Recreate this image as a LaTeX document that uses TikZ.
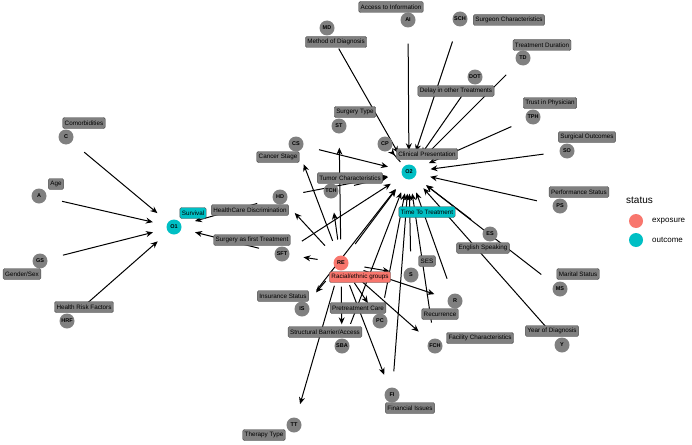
\documentclass[tikz,border=0pt]{standalone}
\usepackage{fontspec}
\setmainfont{Liberation Sans}
\usetikzlibrary{arrows.meta}
\pgfdeclarelayer{bg}
\pgfsetlayers{bg,main}
\begin{document}
\begin{tikzpicture}[x=1pt,y=-1pt,
  circ/.style={circle,fill=black!50,inner sep=0pt,minimum size=15pt,font=\fontsize{5.5}{6}\selectfont\bfseries},
  lab/.style={rectangle,rounded corners=1.5pt,fill=black!50,draw=black!70,line width=0.4pt,inner sep=2pt,minimum height=11pt,font=\fontsize{6.3}{7}\selectfont},
  edge/.style={-{Stealth[length=7pt,width=6pt]},line width=1pt,shorten >=14pt,shorten <=16pt}]
\useasboundingbox (0,0) rectangle (692,444);
\foreach \n/\x/\y/\a/\lx/\ly/\t in {
 MD/327/28/MD/336/42/Method of Diagnosis,
 AI/408/20/AI/391/7/Access to Information,
 SCH/460/19/SCH/509/20/Surgeon Characteristics,
 TD/523/58/TD/542/45/Treatment Duration,
 DOT/475/77/DOT/456/91/Delay in other Treatments,
 TPH/533/117/TPH/550/103/Trust in Physician,
 SO/567/151/SO/587/137/Surgical Outcomes,
 CP/385/144/CP/427/154/Clinical Presentation,
 ST/339/126/ST/355/112/Surgery Type,
 PS/560/206/PS/579/192/Performance Status,
 ES/490/234/ES/483/248/English Speaking,
 MS/560/289/MS/578/274/Marital Status,
 Y/562/345/Y/552/331/Year of Diagnosis,
 S/411/275/S/427/261/SES,
 R/455/301/R/440/314/Recurrence,
 FCH/435/346/FCH/480/338/Facility Characteristics,
 FI/392/395/FI/410/408/Financial Issues,
 PC/380/321/PC/358/308/Pretreatment Care,
 SBA/342/346/SBA/325/332/{Structural Barrier/Access},
 IS/302/309/IS/283/296/Insurance Status,
 TT/294/425/TT/264/435/Therapy Type,
 CS/296/144/CS/278/157/Cancer Stage,
 TCH/331/191/TCH/350/178/Tumor Characteristics,
 HD/280/197/HD/250/210/HealthCare Discrimination,
 SFT/282/254/SFT/252/240/Surgery as first Treatment,
 C/66/137/C/84/123/Comorbidities,
 A/39/196/A/56/184/Age,
 GS/40/261/GS/22/274/{Gender/Sex},
 HRF/67/321/HRF/84/307/Health Risk Factors}{
 \node[circ] (\n) at (\x,\y) {\a};
 \node[lab] (\n l) at (\lx,\ly) {\t};
}
\node[circ,fill={rgb,255:red,0;green,191;blue,196}] (O2) at (409,172) {O2};
\node[lab,fill={rgb,255:red,0;green,191;blue,196}] (O2l) at (427,212) {Time To Treatment};
\node[circ,fill={rgb,255:red,0;green,191;blue,196}] (O1) at (174,227) {O1};
\node[lab,fill={rgb,255:red,0;green,191;blue,196}] (O1l) at (193,213) {Survival};
\node[circ,fill={rgb,255:red,248;green,118;blue,109}] (RE) at (341,263) {RE};
\node[lab,fill={rgb,255:red,248;green,118;blue,109}] (REl) at (360,277) {Racial/ethnic groups};
\begin{pgfonlayer}{bg}
\foreach \n in {MD,AI,SCH,TD,DOT,TPH,SO,CP,PS,ES,MS,Y,S,R,FI,PC,SBA,IS,CS,TCH,HD,SFT,RE,FCH}
  \draw[edge] (\n) -- (O2);
\foreach \n in {CS,ST,TCH,HD,SFT,IS,SBA,PC,FI,FCH,R,S,TT}
  \draw[edge] (RE) -- (\n);
\foreach \n in {C,A,GS,HRF,HD,SFT}
  \draw[edge] (\n) -- (O1);
\end{pgfonlayer}
\node[font=\fontsize{10}{11}\selectfont,anchor=west,inner sep=0pt] (leg) at (626,200) {status};
\node[circle,fill={rgb,255:red,248;green,118;blue,109},minimum size=14pt,inner sep=0pt] (e1) at (636,221) {};
\node[anchor=west,font=\fontsize{8}{9}\selectfont,inner sep=0pt] (e1t) at (652,221) {exposure};
\node[circle,fill={rgb,255:red,0;green,191;blue,196},minimum size=14pt,inner sep=0pt] (e2) at (636,240) {};
\node[anchor=west,font=\fontsize{8}{9}\selectfont,inner sep=0pt] (e2t) at (652,240) {outcome};
\end{tikzpicture}
\end{document}
